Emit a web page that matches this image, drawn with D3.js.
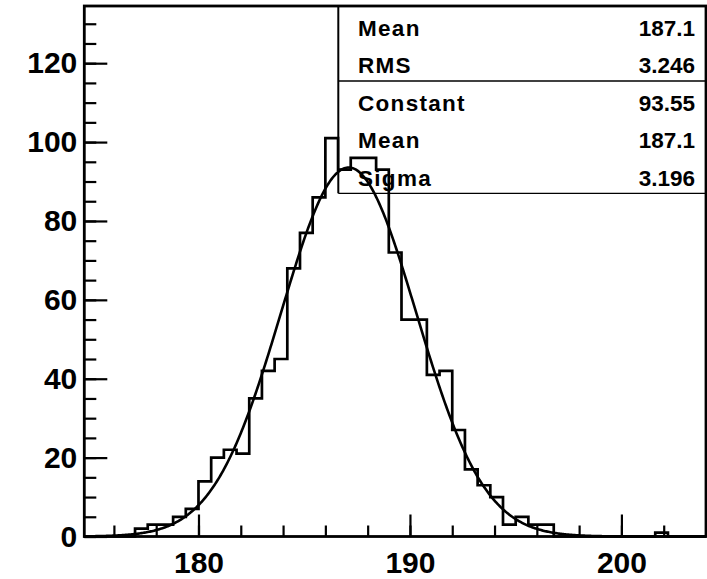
<!DOCTYPE html>
<html lang="en">
<head>
    <meta charset="UTF-8">
    <title>Histogram with gaussian fit</title>

    <script src="https://d3js.org/d3.v7.min.js"></script>

    <style>
        body { margin: 0; background: #fff; }
        text { font-family: "Liberation Sans", Arial, Helvetica, sans-serif; font-weight: bold; fill: #000; }
        .frame { fill: none; stroke: #000; stroke-width: 2.8px; }
        .hist { fill: none; stroke: #000; stroke-width: 2.7px; }
        .fit { fill: none; stroke: #000; stroke-width: 2.6px; }
        .axis line { stroke: #000; stroke-width: 2.2px; }
        .axis path { display: none; }
        .axis text { font-size: 30px; }
        .stats line { stroke: #000; }
        .stats text { font-size: 22.5px; }
        .stats .lab { letter-spacing: 1.3px; }
    </style>
</head>
<body>
<div id="chart"></div>
<script>
    // histogram: 49 bins of 0.6 starting at 174.6
    var binStart = 174.6,
        binWidth = 0.6;
    var counts = [0, 0, 0, 0,
        2, 3, 3, 5, 7, 14, 20, 22, 21, 35, 42, 45, 68, 77, 86, 101, 93,
        96, 96, 93, 72, 55, 55, 41, 42, 27, 17, 13, 10, 3, 5, 3, 3,
        0, 0, 0, 0, 0, 0, 0, 0, 1, 0, 0, 0];

    // fit parameters (gaus)
    var fitConstant = 93.55, fitMean = 187.1, fitSigma = 3.196;

    var statsLabels1 = ["Mean", "RMS"],
        statsValues1 = ["187.1", "3.246"],
        statsLabels2 = ["Constant", "Mean", "Sigma"],
        statsValues2 = ["93.55", "187.1", "3.196"];

    var xTicks = [180, 190, 200],
        yTicks = [0, 20, 40, 60, 80, 100, 120];

    var W = 707, H = 579;
    // plot frame in pixels
    var frame = {left: 84.3, right: 706, top: 6, bottom: 536.5};

    var x = d3.scaleLinear().domain([174.6, 204]).range([frame.left, frame.right]);
    var y = d3.scaleLinear().domain([0, 134.5]).range([frame.bottom, frame.top]);

    var svg = d3.select("#chart").append("svg")
        .attr("width", W)
        .attr("height", H);

    // axes (ticks inside the frame, like ROOT)
    svg.append("g").attr("class", "axis")
        .attr("transform", "translate(0," + frame.bottom + ")")
        .call(d3.axisBottom(x).tickValues(d3.range(176, 204.1, 2)).tickSize(-11).tickFormat(""));
    svg.append("g").attr("class", "axis")
        .attr("transform", "translate(0," + frame.bottom + ")")
        .call(d3.axisBottom(x).tickValues(xTicks).tickSize(-22).tickPadding(15).tickFormat(d3.format("d")));

    svg.append("g").attr("class", "axis")
        .attr("transform", "translate(" + frame.left + ",0)")
        .call(d3.axisLeft(y).tickValues(d3.range(0, 131, 5)).tickSize(-12).tickFormat(""));
    svg.append("g").attr("class", "axis")
        .attr("transform", "translate(" + frame.left + ",0)")
        .call(d3.axisLeft(y).tickValues(yTicks).tickSize(-23).tickPadding(7).tickFormat(d3.format("d")));

    // histogram outline
    var pts = [[binStart, 0]];
    counts.forEach(function(c, i) {
        pts.push([binStart + i * binWidth, c]);
        pts.push([binStart + (i + 1) * binWidth, c]);
    });
    pts.push([binStart + counts.length * binWidth, 0]);

    var line = d3.line()
        .x(function(d) { return x(d[0]); })
        .y(function(d) { return y(d[1]); });

    svg.append("path").attr("class", "hist").attr("d", line(pts));

    // fitted gaussian
    var fitPts = d3.range(174.6, 204.01, 0.05).map(function(v) {
        var z = (v - fitMean) / fitSigma;
        return [v, fitConstant * Math.exp(-0.5 * z * z)];
    });
    svg.append("path").attr("class", "fit").attr("d", line(fitPts));

    // frame
    svg.append("rect").attr("class", "frame")
        .attr("x", frame.left).attr("y", frame.top)
        .attr("width", frame.right - frame.left).attr("height", frame.bottom - frame.top);

    // stats box
    var bx = 338.3, by = 6, rowH = 37.4, sep = 81, bb = 193.3;
    var st = svg.append("g").attr("class", "stats");
    st.append("line").attr("x1", bx).attr("x2", bx).attr("y1", by).attr("y2", bb).style("stroke-width", 2);
    st.append("line").attr("x1", bx).attr("x2", frame.right).attr("y1", sep).attr("y2", sep).style("stroke-width", 1.6);
    st.append("line").attr("x1", bx).attr("x2", frame.right).attr("y1", bb).attr("y2", bb).style("stroke-width", 1.2);

    var rows = statsLabels1.map(function(l, i) { return {label: l, value: statsValues1[i]}; })
        .concat(statsLabels2.map(function(l, i) { return {label: l, value: statsValues2[i]}; }));

    st.selectAll(".lab").data(rows).enter().append("text")
        .attr("class", "lab")
        .attr("x", 358)
        .attr("y", function(d, i) { return 36 + i * rowH; })
        .text(function(d) { return d.label; });
    st.selectAll(".val").data(rows).enter().append("text")
        .attr("class", "val")
        .attr("x", 695)
        .attr("y", function(d, i) { return 36 + i * rowH; })
        .attr("text-anchor", "end")
        .text(function(d) { return d.value; });
</script>
</body>
</html>
